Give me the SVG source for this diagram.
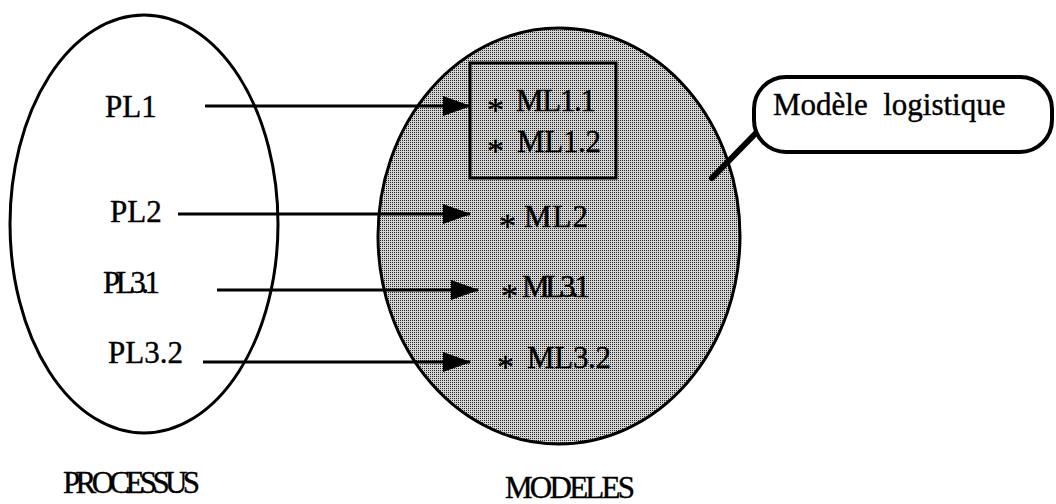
<svg xmlns="http://www.w3.org/2000/svg" width="1056" height="504" viewBox="0 0 1056 504">
<style>
  text{font-family:"Liberation Serif","Times New Roman",serif;font-size:31px;fill:#000;stroke:#000;stroke-width:0.4}
  .star{font-size:34px}
  .outline{fill:none;stroke:#000;stroke-width:3}
  .dot{fill:url(#stipple);stroke:#000;stroke-width:3}
  .arrow{stroke:#000;stroke-width:3;fill:none;marker-end:url(#head)}
</style>
<defs>
  <pattern id="stipple" patternUnits="userSpaceOnUse" x="0" y="0" width="2" height="2">
    <rect width="2" height="2" fill="#d4d4d4"/>
    <rect width="1" height="1" fill="#262626"/>
  </pattern>
  <marker id="head" markerUnits="userSpaceOnUse" markerWidth="28" markerHeight="22" refX="27" refY="11" orient="auto">
    <path d="M0,1 L28,11 L0,21 z" fill="#000"/>
  </marker>
</defs>
<rect width="1056" height="504" fill="#fff"/>

<g id="processus">
  <ellipse class="outline" cx="144" cy="224" rx="134" ry="209"/>
  <text x="63" y="493" textLength="137" lengthAdjust="spacing">PROCESSUS</text>
</g>
<g id="pl1"><text x="105" y="117">PL1</text></g>
<g id="pl2"><text x="110" y="222">PL2</text></g>
<g id="pl31"><text x="103" y="293" textLength="57" lengthAdjust="spacing">PL3.1</text></g>
<g id="pl32"><text x="108" y="363">PL3.2</text></g>

<g id="modeles">
  <ellipse class="dot" cx="559" cy="236" rx="181" ry="208"/>
  <text x="505" y="498" textLength="130" lengthAdjust="spacing">MODELES</text>
</g>
<g id="ml1">
  <rect class="dot" x="470" y="63" width="146" height="115" stroke-width="3.5"/>
  <text class="star" x="487" y="121">*</text><text x="516" y="111" textLength="80" lengthAdjust="spacing">ML1.1</text>
  <text class="star" x="487" y="162">*</text><text x="517" y="152" textLength="84" lengthAdjust="spacing">ML1.2</text>
</g>
<g id="ml2"><text class="star" x="499" y="237">*</text><text x="524" y="227" textLength="64" lengthAdjust="spacing">ML2</text></g>
<g id="ml31"><text class="star" x="501" y="307">*</text><text x="522" y="297" textLength="68" lengthAdjust="spacing">ML3.1</text></g>
<g id="ml32"><text class="star" x="497" y="378">*</text><text x="527" y="368" textLength="84" lengthAdjust="spacing">ML3.2</text></g>

<g id="callout">
  <line x1="756" y1="133" x2="712" y2="178" stroke="#000" stroke-width="6" stroke-linecap="round"/>
  <rect x="754" y="77" width="298" height="75" rx="32" ry="32" fill="#fff" stroke="#000" stroke-width="4"/>
  <text x="773" y="115" xml:space="preserve">Modèle  logistique</text>
</g>

<g id="connectors">
  <line class="arrow" x1="205" y1="106" x2="470" y2="106"/>
  <line class="arrow" x1="178" y1="214" x2="470" y2="214"/>
  <line class="arrow" x1="217" y1="290" x2="478" y2="290"/>
  <line class="arrow" x1="203" y1="362" x2="470" y2="362"/>
</g>
</svg>
